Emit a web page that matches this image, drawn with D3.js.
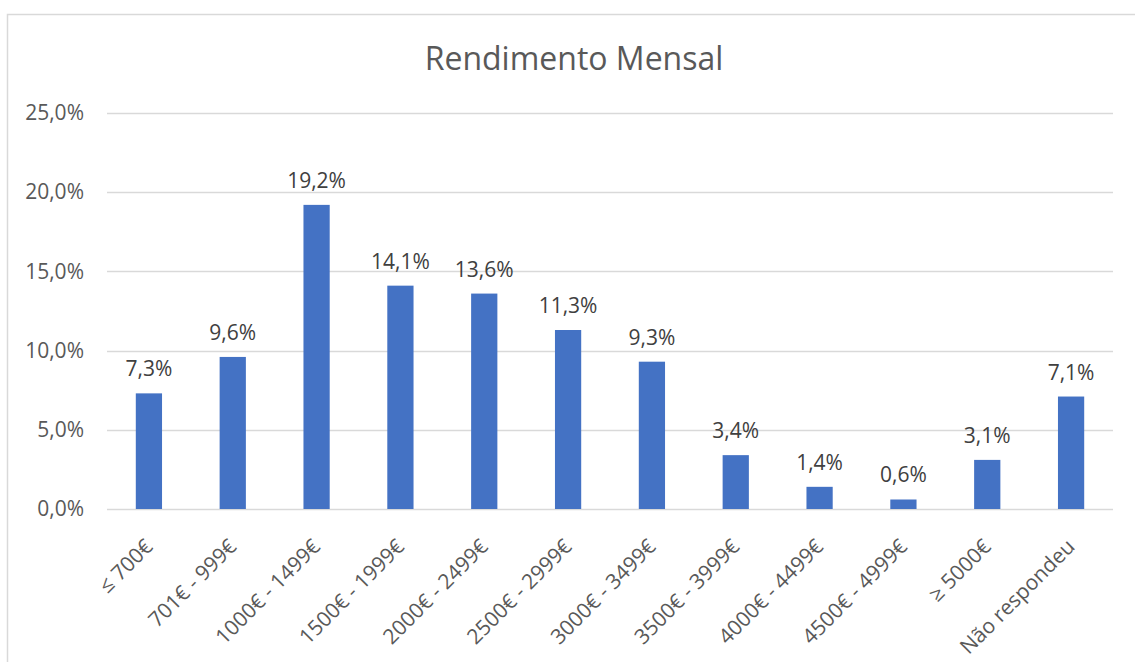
<!DOCTYPE html>
<html>
<head>
<meta charset="utf-8">
<script src="https://cdn.jsdelivr.net/npm/d3@7"></script>
<style>
  body { margin: 0; background: #fff; }
  text { font-family: "Open Sans", "Noto Sans", sans-serif; }
</style>
</head>
<body>
<div id="chart"></div>
<script>
// Data
var categories = ["≤ 700€", "701€ - 999€", "1000€ - 1499€", "1500€ - 1999€", "2000€ - 2499€",
  "2500€ - 2999€", "3000€ - 3499€", "3500€ - 3999€", "4000€ - 4499€", "4500€ - 4999€",
  "≥ 5000€", "Não respondeu"];
var values = [7.3, 9.6, 19.2, 14.1, 13.6, 11.3, 9.3, 3.4, 1.4, 0.6, 3.1, 7.1];
var yTicks = [0, 5, 10, 15, 20, 25];

var w = 1135;
var h = 662;
var margin = { top: 113, right: 22, bottom: 153, left: 107 };

var svg = d3.select("#chart")
  .append("svg")
  .attr("width", w)
  .attr("height", h);

// Chart frame
svg.append("rect")
  .attr("x", 7.5)
  .attr("y", 14.5)
  .attr("width", w + 10)
  .attr("height", h + 10)
  .attr("fill", "none")
  .attr("stroke", "#d9d9d9")
  .attr("stroke-width", 1.5);

var xScale = d3.scaleBand()
  .domain(categories)
  .range([margin.left, w - margin.right])
  .paddingInner(0.687)
  .paddingOuter(0.3435);

var yScale = d3.scaleLinear()
  .domain([0, 25])
  .range([h - margin.bottom, margin.top]);

var fmt = function (v) { return d3.format(".1f")(v).replace(".", ",") + "%"; };

// Gridlines
svg.append("g")
  .selectAll("line")
  .data(yTicks)
  .enter()
  .append("line")
  .attr("x1", margin.left)
  .attr("x2", w - margin.right)
  .attr("y1", function (d) { return Math.round(yScale(d)) + 0.5; })
  .attr("y2", function (d) { return Math.round(yScale(d)) + 0.5; })
  .attr("stroke", "#d9d9d9")
  .attr("stroke-width", 1.5);

// Y-axis labels
var yAxis = svg.append("g")
  .attr("transform", "translate(" + (margin.left - 23) + ",0)")
  .call(d3.axisLeft(yScale).tickValues(yTicks).tickFormat(fmt).tickSize(0).tickPadding(0));
yAxis.select(".domain").remove();
yAxis.selectAll("text")
  .attr("fill", "#595959")
  .style("font-size", "21px")
  .style("font-family", "'Open Sans', sans-serif");

// Bars
svg.selectAll("rect.bar")
  .data(values)
  .enter()
  .append("rect")
  .attr("class", "bar")
  .attr("x", function (d, i) { return xScale(categories[i]); })
  .attr("y", function (d) { return yScale(d); })
  .attr("width", xScale.bandwidth())
  .attr("height", function (d) { return yScale(0) - yScale(d); })
  .attr("fill", "#4472c4");

// Data labels
svg.selectAll("text.lbl")
  .data(values)
  .enter()
  .append("text")
  .attr("class", "lbl")
  .attr("x", function (d, i) { return xScale(categories[i]) + xScale.bandwidth() / 2; })
  .attr("y", function (d) { return yScale(d) - 17; })
  .attr("text-anchor", "middle")
  .attr("fill", "#404040")
  .style("font-size", "21px")
  .text(fmt);

// X-axis labels, rotated
svg.append("g")
  .selectAll("text")
  .data(categories)
  .enter()
  .append("text")
  .attr("transform", function (d) {
    var cx = xScale(d) + xScale.bandwidth() / 2 + 5;
    return "translate(" + cx + "," + (yScale(0) + 39) + ") rotate(-45)";
  })
  .attr("text-anchor", "end")
  .attr("fill", "#595959")
  .style("font-size", "21px")
  .text(function (d) { return d; });

// Title
svg.append("text")
  .attr("x", 574)
  .attr("y", 70)
  .attr("text-anchor", "middle")
  .attr("fill", "#595959")
  .style("font-size", "32px")
  .text("Rendimento Mensal");
</script>
</body>
</html>
